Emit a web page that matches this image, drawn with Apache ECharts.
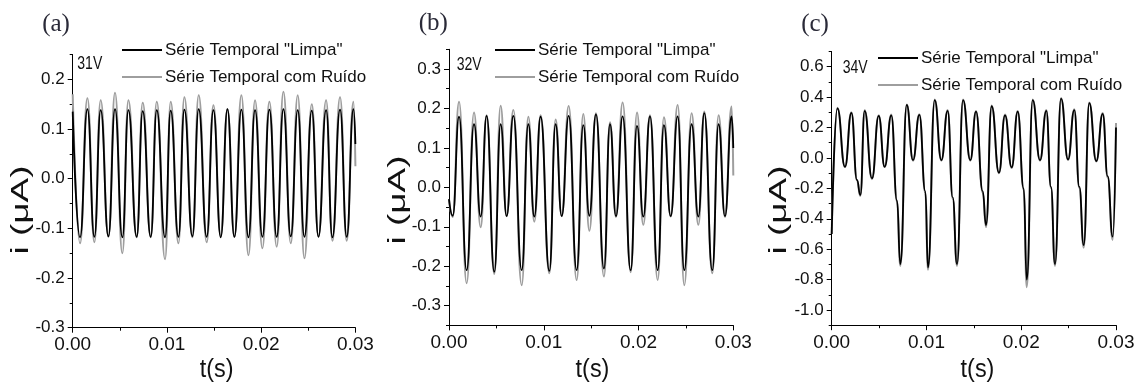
<!DOCTYPE html>
<html><head><meta charset="utf-8">
<script src="https://cdn.jsdelivr.net/npm/echarts@6/dist/echarts.min.js"></script>
<style>html,body{margin:0;padding:0;background:#fff}#c{width:1140px;height:388px}</style>
</head><body><div id="c"></div>
<script>
// ---------- DATA ----------
const seriesNames = ['Série Temporal "Limpa"', 'Série Temporal com Ruído'];
const panelLabels = ['(a)', '(b)', '(c)'];
const voltageLabels = ['31V', '32V', '34V'];
const xTitle = 't(s)';
const yTitle = 'i (\u03bcA)';
const xTicks = [0, 0.01, 0.02, 0.03];
const yTicksA = [-0.3, -0.2, -0.1, 0, 0.1, 0.2];
const yTicksB = [-0.3, -0.2, -0.1, 0, 0.1, 0.2, 0.3];
const yTicksC = [-1.0, -0.8, -0.6, -0.4, -0.2, 0, 0.2, 0.4, 0.6];

// panel (a) - 31V
const tA = [0,
  0.00078, 0.00156, 0.0023, 0.00297, 0.00379, 0.00449, 0.00527, 0.00591, 0.00679, 0.00743,
  0.00828, 0.00892, 0.0098, 0.0104, 0.01122, 0.01185, 0.0127, 0.01337, 0.01422, 0.01493,
  0.01571, 0.01642, 0.01716, 0.0179, 0.01865, 0.01935, 0.02013, 0.02087, 0.02165, 0.02236,
  0.02314, 0.02388, 0.02459, 0.02537, 0.02608, 0.02689, 0.02756, 0.02837, 0.02908, 0.02979,
  0.03];
const cleanA = [0.135,
  -0.118, 0.14, -0.117, 0.138, -0.116, 0.14, -0.118, 0.138, -0.117, 0.136,
  -0.117, 0.138, -0.118, 0.137, -0.117, 0.139, -0.116, 0.14, -0.117, 0.138,
  -0.118, 0.14, -0.117, 0.139, -0.118, 0.138, -0.117, 0.139, -0.117, 0.14,
  -0.116, 0.138, -0.117, 0.137, -0.117, 0.138, -0.118, 0.139, -0.117, 0.14,
  0.07];
const noisyA = [0.17,
  -0.13, 0.162, -0.128, 0.158, -0.117, 0.173, -0.15, 0.158, -0.118, 0.153,
  -0.118, 0.155, -0.162, 0.155, -0.13, 0.164, -0.118, 0.168, -0.128, 0.148,
  -0.115, 0.14, -0.117, 0.168, -0.154, 0.158, -0.14, 0.155, -0.137, 0.175,
  -0.13, 0.168, -0.16, 0.15, -0.117, 0.158, -0.125, 0.164, -0.125, 0.155,
  0.025];

// panel (b) - 32V
const tB = [0, 0.00039,
  0.00106, 0.00186, 0.00264, 0.00334, 0.00397, 0.00478, 0.00545, 0.00608,
  0.00679, 0.00767, 0.00837, 0.009, 0.00967, 0.01059, 0.01125, 0.01189,
  0.01263, 0.01347, 0.01417, 0.01481, 0.01551, 0.01635, 0.01699, 0.01762,
  0.01832, 0.01917, 0.01984, 0.0205, 0.02121, 0.02202, 0.02268, 0.02339,
  0.02413, 0.02483, 0.0256, 0.02631, 0.02694, 0.02778, 0.02845, 0.02912,
  0.02982, 0.03];
const cleanB = [-0.03, -0.072,
  0.179, -0.21, 0.16, -0.074, 0.181, -0.214, 0.16, -0.073,
  0.181, -0.21, 0.16, -0.074, 0.179, -0.212, 0.16, -0.073,
  0.181, -0.21, 0.158, -0.072, 0.185, -0.206, 0.16, -0.073,
  0.18, -0.21, 0.156, -0.074, 0.18, -0.21, 0.158, -0.073,
  0.18, -0.21, 0.16, -0.074, 0.188, -0.21, 0.16, -0.073,
  0.18, 0.1];
const noisyB = [-0.03, -0.075,
  0.217, -0.243, 0.19, -0.101, 0.183, -0.22, 0.207, -0.073,
  0.196, -0.248, 0.179, -0.087, 0.183, -0.218, 0.172, -0.073,
  0.206, -0.235, 0.186, -0.11, 0.188, -0.226, 0.165, -0.075,
  0.215, -0.215, 0.19, -0.095, 0.183, -0.235, 0.178, -0.074,
  0.209, -0.248, 0.188, -0.095, 0.192, -0.218, 0.183, -0.075,
  0.205, 0.03];

// panel (c) - 34V
const tC = [0, 0.0006, 0.0014, 0.00208, 0.00267, 0.00302, 0.00348, 0.00425, 0.00496, 0.00559,
  0.00629, 0.00689, 0.00724, 0.00792, 0.00858, 0.00925, 0.00988, 0.01016, 0.01087, 0.01157,
  0.01224, 0.01277, 0.01322, 0.01386, 0.01463, 0.01523, 0.01594, 0.01628, 0.01688, 0.01765,
  0.01829, 0.01899, 0.01963, 0.02026, 0.02058, 0.02121, 0.02198, 0.02265, 0.02314, 0.02356,
  0.0242, 0.02494, 0.0256, 0.02613, 0.02659, 0.02718, 0.02792, 0.0286, 0.02912, 0.02965, 0.03];
const cleanC = [-0.5, 0.326, -0.058, 0.297, -0.145, -0.244, 0.31, -0.134, 0.276, -0.058,
  0.28, -0.28, -0.698, 0.348, -0.014, 0.283, -0.22, -0.72, 0.38, -0.014,
  0.31, -0.26, -0.698, 0.38, -0.014, 0.304, -0.22, -0.441, 0.34, -0.097,
  0.28, -0.062, 0.304, -0.2, -0.8, 0.38, -0.014, 0.31, -0.19, -0.698,
  0.39, -0.01, 0.315, -0.19, -0.573, 0.36, -0.02, 0.29, -0.12, -0.518, 0.2];
const noisyC = [-0.5, 0.33, -0.06, 0.3, -0.15, -0.25, 0.315, -0.14, 0.28, -0.06,
  0.285, -0.29, -0.71, 0.352, -0.018, 0.287, -0.23, -0.735, 0.385, -0.018,
  0.315, -0.27, -0.71, 0.385, -0.018, 0.308, -0.23, -0.455, 0.345, -0.1,
  0.285, -0.066, 0.308, -0.21, -0.85, 0.385, -0.018, 0.315, -0.2, -0.71,
  0.395, -0.014, 0.32, -0.2, -0.59, 0.365, -0.024, 0.295, -0.13, -0.54, 0.23];

// ---------- LAYOUT / STYLE ----------
const SANS = "'Liberation Sans', Arial, sans-serif";
const GRAY = '#9e9e9e';
const panels = [
  { t: tA, clean: cleanA, noisy: noisyA, yMin: -0.3, yMax: 0.25, yTicks: yTicksA,
    grid: { left: 72.7, top: 54.5, width: 282.7, height: 273.2 },
    legend: { left: 122, top: 41 }, label: [56, 24], volt: [77.3, 63.7], yName: [21, 210], xName: [216.7, 370] },
  { t: tB, clean: cleanB, noisy: noisyB, yMin: -0.35, yMax: 0.35, yTicks: yTicksB,
    grid: { left: 449, top: 49.3, width: 284.3, height: 276.1 },
    legend: { left: 495, top: 41 }, label: [433.3, 23.5], volt: [456.7, 64.8], yName: [398, 200], xName: [592.5, 370] },
  { t: tC, clean: cleanC, noisy: noisyC, yMin: -1.1, yMax: 0.7, yTicks: yTicksC,
    grid: { left: 831.7, top: 51.5, width: 284.3, height: 273.7 },
    legend: { left: 878, top: 49 }, label: [815, 24.2], volt: [842.7, 68.3], yName: [779, 210], xName: [977.5, 370] }
];

const grids = [], xAxes = [], yAxes = [], series = [], legends = [], graphics = [];
panels.forEach((p, i) => {
  grids.push(Object.assign({ containLabel: false }, p.grid));
  xAxes.push({
    type: 'value', gridIndex: i, min: xTicks[0], max: xTicks[xTicks.length - 1], interval: xTicks[1] - xTicks[0],
    axisLine: { show: true, onZero: false, lineStyle: { color: '#000', width: 1 } },
    axisTick: { show: true, length: 5, lineStyle: { color: '#000' } },
    minorTick: { show: true, splitNumber: 2, length: 3, lineStyle: { color: '#000' } },
    axisLabel: { formatter: v => v.toFixed(2), margin: 8, fontFamily: SANS, fontSize: 19, color: '#111' },
    splitLine: { show: false }, minorSplitLine: { show: false }
  });
  const step = p.yTicks[1] - p.yTicks[0];
  const minors = [];
  for (let v = p.yTicks[0] - step / 2; v <= p.yMax + 1e-9; v += step) {
    if (v >= p.yMin - 1e-9) minors.push(+v.toFixed(4));
  }
  yAxes.push({
    type: 'value', gridIndex: i, min: p.yMin, max: p.yMax, position: 'left', offset: 0,
    axisLine: { show: true, onZero: false, lineStyle: { color: '#000', width: 1 } },
    axisTick: { show: true, length: 5, customValues: p.yTicks, lineStyle: { color: '#000' } },
    axisLabel: { customValues: p.yTicks, formatter: v => v.toFixed(1), margin: 8,
      fontFamily: SANS, fontSize: 17, color: '#111' },
    splitLine: { show: false }
  });
  yAxes.push({
    type: 'value', gridIndex: i, min: p.yMin, max: p.yMax, position: 'left', offset: 0,
    axisLine: { show: false },
    axisTick: { show: true, length: 3, customValues: minors, lineStyle: { color: '#000' } },
    axisLabel: { show: false }, splitLine: { show: false }
  });
  series.push({
    name: seriesNames[1], type: 'line', xAxisIndex: i, yAxisIndex: 2 * i,
    data: p.t.map((t, k) => [t, p.noisy[k]]),
    symbol: 'none', smooth: 0.5, smoothMonotone: 'x',
    lineStyle: { color: GRAY, width: 2 }, itemStyle: { color: GRAY }, z: 2
  });
  series.push({
    name: seriesNames[0], type: 'line', xAxisIndex: i, yAxisIndex: 2 * i,
    data: p.t.map((t, k) => [t, p.clean[k]]),
    symbol: 'none', smooth: 0.5, smoothMonotone: 'x',
    lineStyle: { color: '#000', width: 1.8 }, itemStyle: { color: '#000' }, z: 3
  });
  legends.push({
    data: [
      { name: seriesNames[0], icon: 'rect', itemStyle: { color: '#000' } },
      { name: seriesNames[1], icon: 'rect', itemStyle: { color: GRAY } }
    ],
    orient: 'vertical', left: p.legend.left, top: p.legend.top, padding: 0, itemGap: 9,
    itemWidth: 40, itemHeight: 2, selectedMode: false,
    textStyle: { fontFamily: SANS, fontSize: 17, lineHeight: 18, color: '#111', padding: [0, 0, 0, -2] }
  });
  graphics.push({ type: 'text', x: p.label[0], y: p.label[1],
    style: { text: panelLabels[i], font: "25px 'Liberation Serif', 'Times New Roman', serif",
      fill: '#2a2a38', textAlign: 'center', textVerticalAlign: 'middle' } });
  graphics.push({ type: 'text', x: p.volt[0], y: p.volt[1], scaleX: 0.78,
    style: { text: voltageLabels[i], font: "18px " + SANS,
      fill: '#111', textAlign: 'left', textVerticalAlign: 'middle' } });
  graphics.push({ type: 'text', x: p.yName[0], y: p.yName[1], rotation: Math.PI / 2, scaleY: 0.66,
    style: { text: yTitle, font: "37px " + SANS,
      fill: '#111', textAlign: 'center', textVerticalAlign: 'middle' } });
  graphics.push({ type: 'text', x: p.xName[0], y: p.xName[1], scaleX: 0.9,
    style: { text: xTitle, font: "26px " + SANS,
      fill: '#111', textAlign: 'center', textVerticalAlign: 'middle' } });
});

const chart = echarts.init(document.getElementById('c'), null, { renderer: 'canvas' });
chart.setOption({
  animation: false,
  backgroundColor: '#fff',
  grid: grids, xAxis: xAxes, yAxis: yAxes, series: series, legend: legends,
  graphic: { elements: graphics }
});
</script>
</body></html>
